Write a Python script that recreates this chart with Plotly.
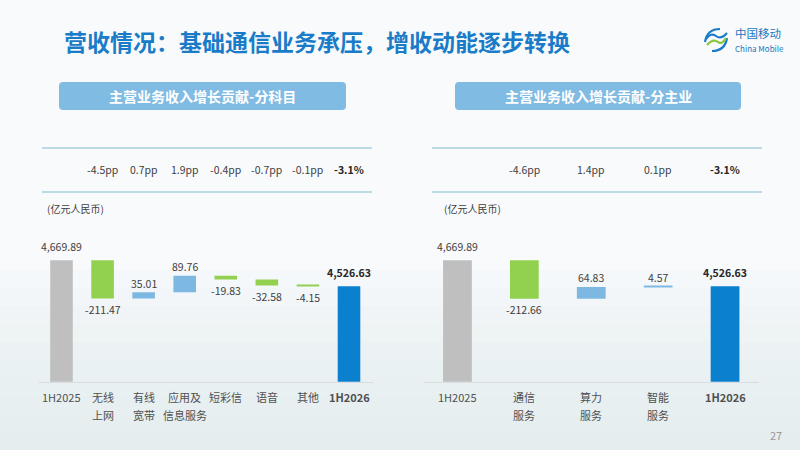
import numpy as np
import plotly.graph_objects as go

# 分科目
left_categories = ["1H2025", "无线<br>上网", "有线<br>宽带", "应用及<br>信息服务", "短彩信", "语音", "其他", "1H2026"]
left_start = 4669.89
left_deltas = [-211.47, 35.01, 89.76, -19.83, -32.58, -4.15]
left_end = 4526.63
left_pp = [-4.5, 0.7, 1.9, -0.4, -0.7, -0.1]
left_growth = "-3.1%"

# 分主业
right_categories = ["1H2025", "通信<br>服务", "算力<br>服务", "智能<br>服务", "1H2026"]
right_start = 4669.89
right_deltas = [-212.66, 64.83, 4.57]
right_end = 4526.63
right_pp = [-4.6, 1.4, 0.1]
right_growth = "-3.1%"

W, H = 800, 450
FONT = "Noto Sans CJK SC"
GREY = "#BFBFBF"
GREEN = "#92D050"
LIGHT_BLUE = "#7CB8E2"
DARK_BLUE = "#0A80CE"
TEXT = "#404040"
BASE_Y = 1 - 381.7 / H


def px(x):
    return x / W


def py(y):
    return 1 - y / H


def pix_path(cmds, close=False):
    # 像素坐标 -> paper 坐标
    out = []
    for p in cmds:
        coords = p[1:]
        s = " ".join(f"{px(coords[i]):.5f},{py(coords[i + 1]):.5f}" for i in range(0, len(coords), 2))
        out.append(f"{p[0]} {s}")
    return " ".join(out) + (" Z" if close else "")


def rounded_rect(x0, y0, x1, y1, r):
    return pix_path([
        ("M", x0 + r, y0), ("L", x1 - r, y0), ("Q", x1, y0, x1, y0 + r),
        ("L", x1, y1 - r), ("Q", x1, y1, x1 - r, y1), ("L", x0 + r, y1),
        ("Q", x0, y1, x0, y1 - r), ("L", x0, y0 + r), ("Q", x0, y0, x0 + r, y0),
    ], close=True)


fig = go.Figure()
annotations = []
shapes = []


def note(**kw):
    kw.setdefault("showarrow", False)
    kw.setdefault("xanchor", "center")
    kw.setdefault("yanchor", "middle")
    annotations.append(kw)


def add_panel(n, cats, start, deltas, end, pp, growth, width):
    xa = "x" if n == 1 else f"x{n}"
    ya = "y" if n == 1 else f"y{n}"
    levels = start + np.cumsum(deltas)
    prev = np.concatenate([[start], levels[:-1]])
    heights = [start] + list(deltas) + [end]
    bases = [0] + list(prev) + [0]
    colors = [GREY] + [GREEN if d < 0 else LIGHT_BLUE for d in deltas] + [DARK_BLUE]
    fig.add_trace(go.Bar(
        x=cats, y=heights, base=bases, width=width,
        marker=dict(color=colors, line=dict(width=0)),
        xaxis=xa, yaxis=ya, hoverinfo="skip", showlegend=False,
    ))

    # 数值标签
    note(x=cats[0], y=start, xref=xa, yref=ya, text=f"{start:,.2f}",
         yshift=14, font=dict(size=10.5, color=TEXT))
    note(x=cats[-1], y=end, xref=xa, yref=ya, text=f"<b>{end:,.2f}</b>",
         yshift=14, font=dict(size=10.5, color="#262626"))
    for cat, b, d in zip(cats[1:-1], prev, deltas):
        shift = 9 if d >= 0 else -11
        note(x=cat, y=b + d, xref=xa, yref=ya, text=f"{d:,.2f}",
             yshift=shift, font=dict(size=10.5, color=TEXT))

    # 类目标签
    for i, cat in enumerate(cats):
        for j, line in enumerate(cat.split("<br>")):
            txt = f"<b>{line}</b>" if i == len(cats) - 1 else line
            note(x=cat, y=BASE_Y, xref=xa, yref="paper", text=txt,
                 yshift=-(15 + 18 * j), font=dict(size=11, color="#505050"))

    # 增长贡献
    for cat, v in zip(cats[1:-1], pp):
        note(x=cat, y=py(169), xref=xa, yref="paper", text=f"{v}pp",
             font=dict(size=10.5, color=TEXT))
    note(x=cats[-1], y=py(169), xref=xa, yref="paper", text=f"<b>{growth}</b>",
         font=dict(size=10.5, color="#262626"))


add_panel(1, left_categories, left_start, left_deltas, left_end, left_pp, left_growth, 0.55)
add_panel(2, right_categories, right_start, right_deltas, right_end, right_pp, right_growth, 0.43)

# 背景渐变（底部偏灰）
for k in range(10):
    top = 270 + k * 18
    shapes.append(dict(type="rect", xref="paper", yref="paper", x0=0, x1=1, y0=0, y1=py(top),
                       fillcolor="#DDE4EB", opacity=0.09, line=dict(width=0), layer="below"))

# 表格线
for x0, x1 in [(42, 372), (432, 762)]:
    for y in (148, 192):
        shapes.append(dict(type="line", xref="paper", yref="paper", x0=px(x0), x1=px(x1),
                           y0=py(y), y1=py(y), line=dict(color="#A9CEDF", width=1.5)))

# 标题框
for x0, x1, label in [(59, 346, "主营业务收入增长贡献-分科目"), (455, 741, "主营业务收入增长贡献-分主业")]:
    shapes.append(dict(type="path", xref="paper", yref="paper", path=rounded_rect(x0, 82, x1, 110, 4),
                       fillcolor="#7FBBE3", line=dict(width=0)))
    note(x=px((x0 + x1) / 2), y=py(96), xref="paper", yref="paper",
         text=f"<b>{label}</b>", font=dict(size=14, color="white"))

# 单位
for x in (45, 442):
    note(x=px(x), y=py(208), xref="paper", yref="paper", text="(亿元人民币)",
         xanchor="left", font=dict(size=10, color=TEXT))

# 主标题
note(x=px(62), y=py(41), xref="paper", yref="paper",
     text="<b>营收情况：基础通信业务承压，增收动能逐步转换</b>",
     xanchor="left", font=dict(size=23, color="#1A7CC8"))

# 标志
logo_curves = [
    ([("M", 705, 42), ("Q", 707, 29, 720, 29)], "#1A7CC8"),
    ([("M", 727, 38), ("Q", 725, 51, 712, 51)], "#1A7CC8"),
    ([("M", 706, 39), ("Q", 711, 32, 716, 36), ("Q", 721, 40, 727, 33)], "#1A7CC8"),
    ([("M", 707, 45), ("Q", 713, 38, 718, 42), ("Q", 722, 45, 726, 38)], "#8CC63F"),
]
for cmds, col in logo_curves:
    shapes.append(dict(type="path", xref="paper", yref="paper", path=pix_path(cmds),
                       line=dict(color=col, width=2.2)))
note(x=px(733), y=py(33), xref="paper", yref="paper", text="中国移动",
     xanchor="left", font=dict(size=11.5, color="#1A77BE"))
note(x=px(733), y=py(48), xref="paper", yref="paper", text="China Mobile",
     xanchor="left", font=dict(size=8, color="#1A77BE"))

# 页码
note(x=px(776), y=py(435), xref="paper", yref="paper", text="27",
     font=dict(size=11, color="#9A9A9A"))

axis_common = dict(showgrid=False, zeroline=False, showticklabels=False, ticks="",
                   showline=True, linecolor="#DADDE0", linewidth=1, fixedrange=True)
yaxis_common = dict(range=[4000, 4750], domain=[BASE_Y, py(245.6)], visible=False, fixedrange=True)

fig.update_layout(
    width=W, height=H,
    margin=dict(l=0, r=0, t=0, b=0),
    paper_bgcolor="#F8FAFC",
    plot_bgcolor="rgba(0,0,0,0)",
    font=dict(family=FONT, color=TEXT),
    barmode="overlay",
    xaxis=dict(domain=[px(39), px(373)], anchor="y", type="category", **axis_common),
    yaxis=dict(anchor="x", **yaxis_common),
    xaxis2=dict(domain=[px(424), px(758.5)], anchor="y2", type="category", **axis_common),
    yaxis2=dict(anchor="x2", **yaxis_common),
    shapes=shapes,
    annotations=annotations,
)

fig.write_html("out.html", config={"displayModeBar": False},
               post_script="document.body.style.margin='0px';")
